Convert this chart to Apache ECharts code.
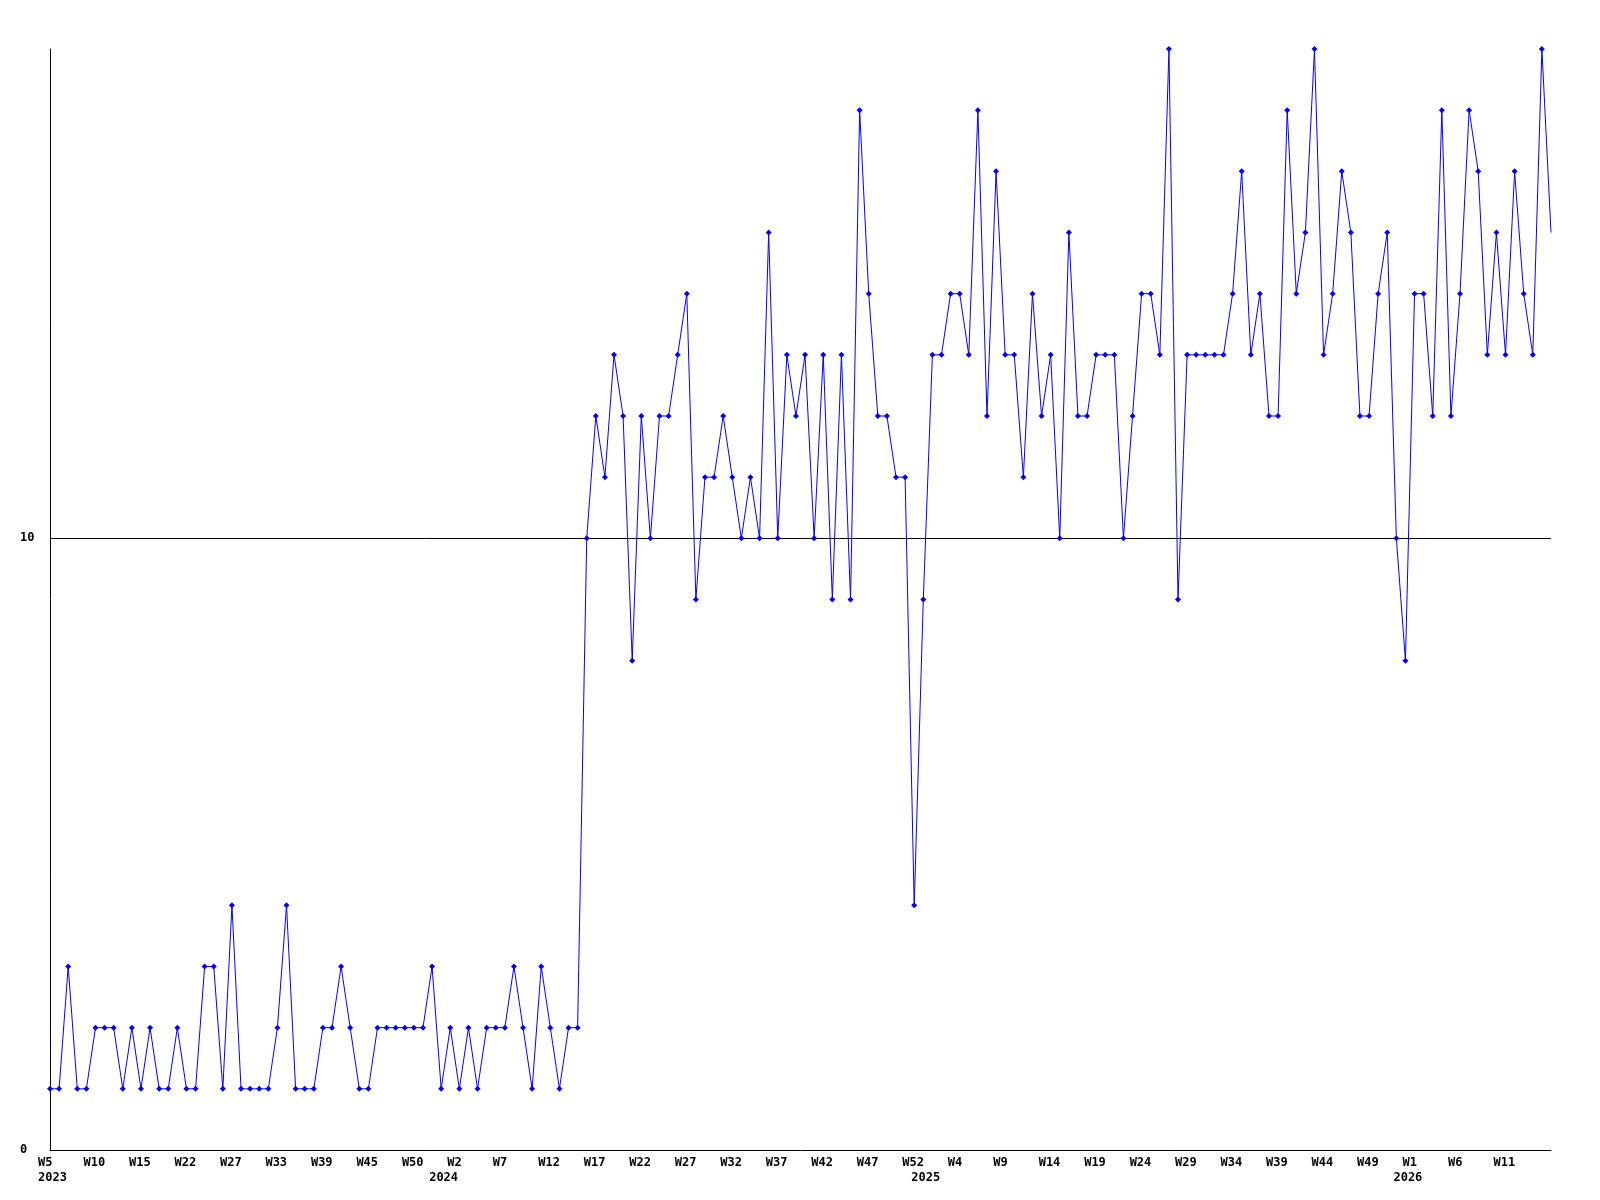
<!DOCTYPE html>
<html>
<head>
<meta charset="utf-8">
<script src="https://cdn.jsdelivr.net/npm/echarts@6/dist/echarts.min.js"></script>
<style>
  html, body { margin: 0; padding: 0; background: #fff; }
  #chart { width: 1600px; height: 1200px; }
</style>
</head>
<body>
<div id="chart"></div>
<script>
// Week numbers per year (category axis), as shown in the chart
const weeks2023 = [5,6,7,8,9,10,11,12,13,14,15,16,17,20,21,22,23,24,25,26,27,28,29,31,32,33,34,35,37,38,39,40,41,43,44,45,46,47,48,49,50,51,52];
const weeks2024 = [0,1,2,3,4,5,6,7,8,9,10,11,12,13,14,15,16,17,18,19,20,21,22,23,24,25,26,27,28,29,30,31,32,33,34,35,36,37,38,39,40,41,42,43,44,45,46,47,48,49,50,51,52];
const weeks2025 = [0,1,2,3,4,5,6,7,8,9,10,11,12,13,14,15,16,17,18,19,20,21,22,23,24,25,26,27,28,29,30,31,32,33,34,35,36,37,38,39,40,41,42,43,44,45,46,47,48,49,50,51,52];
const weeks2026 = [0,1,2,3,4,5,6,7,8,9,10,11,12,13,14,15,16];

// Values per year
const values2023 = [1,1,3,1,1,2,2,2,1,2, 1,2,1,1,2,1,1,3,3,1, 4,1,1,1,1,2,4,1,1,1, 2,2,3,2,1,1,2,2,2,2, 2,2,3];
const values2024 = [1,2,1,2,1,2,2, 2,3,2,1,3,2,1,2,2,10, 12,11,13,12,8,12,10,12,12,13, 14,9,11,11,12,11,10,11,10,15, 10,13,12,13,10,13,9,13,9,17, 14,12,12,11,11,4];
const values2025 = [9,13,13,14, 14,13,17,12,16,13,13,11,14,12, 13,10,15,12,12,13,13,13,10,12, 14,14,13,18,9,13,13,13,13,13, 14,16,13,14,12,12,17,14,15,18, 13,14,16,15,12,12,14,15,10];
const values2026 = [8, 14,14,12,17,12,14,17,16,13,15, 13,16,14,13,18,15];

const yTickLabels = [0, 10];
const refLineValue = 10;

const years = [
  { year: '2023', weeks: weeks2023, values: values2023 },
  { year: '2024', weeks: weeks2024, values: values2024 },
  { year: '2025', weeks: weeks2025, values: values2025 },
  { year: '2026', weeks: weeks2026, values: values2026 }
];

const categories = [];
const weekText = [];
const yearStart = {};
const data = [];
years.forEach(y => {
  yearStart[categories.length] = y.year;
  y.weeks.forEach((w, i) => {
    categories.push(y.year + ' W' + w);
    weekText.push('W' + w);
    data.push(y.values[i]);
  });
});
const lastIdx = data.length - 1;

const fontFam = 'DejaVu Sans Mono';
const chart = echarts.init(document.getElementById('chart'), null, { renderer: 'canvas' });
chart.setOption({
  animation: false,
  backgroundColor: '#ffffff',
  grid: { left: 50, right: 49, top: 49, bottom: 50, containLabel: false },
  xAxis: {
    type: 'category',
    data: categories,
    boundaryGap: false,
    axisLine: { show: true, lineStyle: { color: '#000', width: 1 } },
    axisTick: { show: false },
    splitLine: { show: false },
    axisLabel: {
      show: true,
      margin: 5,
      align: 'center',
      verticalAlign: 'top',
      interval: function (index) {
        return (index % 5 === 0 && index < lastIdx) || yearStart[index] !== undefined;
      },
      formatter: function (value, index) {
        let top = (index % 5 === 0 && index < lastIdx) ? '{w|' + weekText[index] + '}' : '{w| }';
        if (yearStart[index] !== undefined) {
          return top + '\n{w|' + yearStart[index] + '}';
        }
        return top;
      },
      rich: {
        w: {
          width: 24,
          align: 'left',
          fontFamily: fontFam,
          fontWeight: 'bold',
          fontSize: 12,
          lineHeight: 15,
          color: '#000'
        }
      }
    }
  },
  yAxis: {
    type: 'value',
    min: 0,
    max: 18,
    interval: 10,
    axisLine: { show: true, lineStyle: { color: '#000', width: 1 } },
    axisTick: { show: false },
    splitLine: { show: false },
    axisLabel: {
      show: true,
      align: 'left',
      margin: 30,
      showMaxLabel: false,
      fontFamily: fontFam,
      fontWeight: 'bold',
      fontSize: 12,
      color: '#000',
      formatter: function (v) { return yTickLabels.indexOf(v) >= 0 ? String(v) : ''; }
    }
  },
  series: [{
    type: 'line',
    data: data,
    symbol: function (v, params) { return params.dataIndex === lastIdx ? 'none' : 'diamond'; },
    symbolSize: 6,
    showAllSymbol: true,
    lineStyle: { color: '#0000ff', width: 1 },
    itemStyle: { color: '#0000ff' },
    z: 3,
    markLine: {
      silent: true,
      symbol: ['none', 'none'],
      label: { show: false },
      lineStyle: { color: '#000', width: 1, type: 'solid' },
      data: [{ yAxis: refLineValue }],
      z: 2
    }
  }]
});
</script>
</body>
</html>
